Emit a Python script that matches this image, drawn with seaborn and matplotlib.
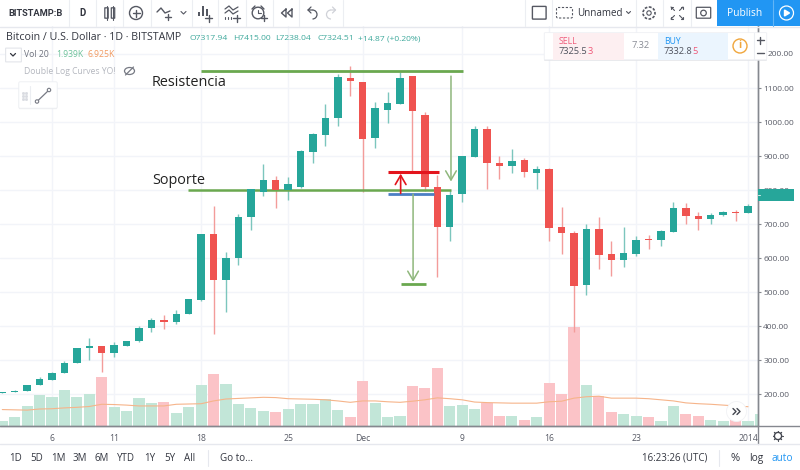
import matplotlib
matplotlib.use("Agg")
import matplotlib.pyplot as plt
from matplotlib.patches import Rectangle, FancyBboxPatch, Circle, Arc, Ellipse
import numpy as np
import pandas as pd
import seaborn as sns

# Daily BTC/USD session values; day 1 = 1 Nov, so 31 = 1 Dec and 62 = 1 Jan
first_day = 2
opens = [203, 206, 209, 227, 242, 263, 291, 334, 341, 322, 342, 355, 393, 417, 412, 435, 477, 670, 535, 600,
         720, 793, 829, 799, 810, 913, 962, 1012, 1130,
         1118, 954, 1035, 1054, 1135, 1021, 809, 692, 787, 898, 979, 880, 870, 889, 850, 863, 691, 675, 521,
         684, 611, 593, 613, 656, 654, 677, 748, 724, 715, 726, 735,
         732]
highs = [207, 211, 228, 251, 264, 298, 335, 364, 342, 352, 356, 400, 423, 432, 447, 480, 671, 754, 619, 730,
         803, 876, 842, 837, 917, 969, 1052, 1140, 1165,
         1119, 1058, 1087, 1148, 1136, 1030, 844, 800, 900, 989, 988, 900, 920, 895, 872, 864, 751, 680, 700,
         720, 651, 690, 664, 668, 681, 764, 762, 734, 732, 739, 741,
         758]
lows = [202, 205, 208, 226, 241, 262, 290, 300, 264, 309, 341, 354, 381, 390, 407, 434, 473, 376, 442, 579,
        682, 783, 746, 771, 806, 879, 929, 988, 1077,
        795, 923, 998, 1053, 854, 798, 543, 651, 766, 897, 802, 831, 849, 839, 802, 651, 612, 382, 491,
        569, 548, 574, 607, 627, 636, 676, 701, 682, 701, 725, 708,
        731]
closes = [206, 210, 227, 243, 263, 292, 334, 342, 322, 345, 355, 394, 417, 412, 436, 479, 670, 535, 599, 720,
          802, 829, 799, 818, 916, 964, 1012, 1131, 1120,
          949, 1040, 1055, 1130, 1033, 809, 692, 785, 899, 979, 879, 870, 885, 854, 863, 688, 674, 519, 684,
          608, 595, 616, 654, 653, 680, 748, 724, 715, 727, 735, 731,
          754]
# Volume in thousands, one extra session at the right edge
volumes = [1.8, 3.1, 7.2, 11.0, 10.4, 13.0, 10.4, 11.5, 17.5, 7.0, 5.3, 10.1, 8.2, 8.5, 4.8, 6.8, 14.8, 18.5, 15.0,
           8.0, 6.5, 5.3, 5.2, 6.0, 7.8, 7.8, 9.6, 5.8, 3.4,
           16.1, 8.4, 3.4, 3.7, 14.3, 13.7, 20.8, 7.2, 7.4, 6.0, 8.4, 3.7, 3.7, 2.0, 3.1, 15.4, 11.4, 35.6, 14.8,
           10.6, 5.0, 4.4, 3.5, 3.2, 1.8, 7.2, 4.2, 3.5, 2.0, 1.8, 2.0,
           1.939, 4.2]
volume_up = [1, 1, 1, 1, 1, 1, 1, 1, 0, 1, 1, 1, 1, 0, 1, 1, 1, 0, 1, 1, 1, 1, 0, 1, 1, 1, 1, 1, 0,
             0, 1, 1, 1, 0, 0, 0, 1, 1, 1, 0, 0, 1, 0, 1, 0, 0, 0, 1, 0, 0, 1, 1, 0, 1, 1, 0, 0, 1, 1, 0,
             1, 1]
volume_ma = [5.9, 5.8, 5.7, 6.1, 6.2, 6.5, 6.7, 7.0, 7.8, 7.7, 7.5, 7.2, 7.2, 7.2, 7.8, 7.9, 8.0, 9.0, 9.7,
             9.9, 10.1, 10.3, 10.2, 9.8, 9.7, 9.6, 9.4, 9.0, 8.5,
             9.0, 9.0, 8.7, 8.5, 8.9, 9.4, 10.1, 9.8, 9.4, 8.6, 8.4, 8.3, 8.2, 8.2, 8.2, 8.7, 8.9, 10.0, 10.5,
             10.7, 10.0, 10.0, 10.0, 9.8, 9.4, 9.0, 8.3, 8.0, 7.8, 7.5, 7.2,
             6.925]

price_ticks = [1200, 1100, 1000, 900, 800, 700, 600, 500, 400, 300, 200]
time_ticks = [6, 11, 18, 25, 31, 39, 46, 53, 62]
time_labels = ["6", "11", "18", "25", "Dec", "9", "16", "23", "2014"]

# Drawn trading levels (day span and price)
resistance_days, resistance_price = [18, 39.05], 1150
support_days, support_price = [16.95, 38.1], 801
entry_days, entry_price = [33.05, 37.1], 854
stop_days, stop_price = [33.05, 36.7], 789
target_days, target_price = [34.05, 36.05], 523
resistance_arrow = (38.1, 1135, 825)
entry_arrow = (34.05, 790, 848)
target_arrow = (35.05, 788, 530)

GREEN, RED = "#26a69a", "#ef5350"
WICK_UP, WICK_DOWN = "#7cc6bd", "#f39c9a"
LEVEL = "#6aa84f"
ARROW = "#8fb77c"
GRID = "#f2f4f9"
AXIS = "#85888f"
LABEL = "#585b66"
DARK = "#333640"

sns.set_theme(style="white")
plt.rcParams["font.family"] = ["Open Sans", "DejaVu Sans"]

W, H = 800, 470
fig = plt.figure(figsize=(W / 100, H / 100), dpi=100)
fig.patch.set_facecolor("white")
rect = [0, (H - 426) / H, 757.5 / W, 400 / H]
ax_vol = fig.add_axes(rect, zorder=1)
ax = fig.add_axes(rect, zorder=2)
ax.patch.set_visible(False)

days = np.arange(first_day, first_day + len(opens))
vol_frame = pd.DataFrame({"day": np.arange(first_day, first_day + len(volumes)),
                          "volume": volumes,
                          "side": ["up" if v else "down" for v in volume_up]})
sns.barplot(data=vol_frame, x="day", y="volume", hue="side", native_scale=True, dodge=False,
            palette={"up": "#c2e6d8", "down": "#fbc3c7"}, width=0.9, gap=0, legend=False,
            linewidth=0, saturation=1, ax=ax_vol)
sns.lineplot(x=days, y=volume_ma, color="#f6b48a", linewidth=0.8, ax=ax_vol)
ax_vol.set_xlim(1.817, 62.76)
ax_vol.set_ylim(0, 400 * 0.359)
ax_vol.set_xlabel("")
ax_vol.set_ylabel("")
ax_vol.set_yticks([])
ax_vol.set_xticks(time_ticks)
ax_vol.tick_params(axis="x", length=0, labelbottom=False)
ax_vol.grid(False)
for t in time_ticks:
    ax_vol.axvline(t, color=GRID, lw=1, zorder=0)
for p in price_ticks:
    ax_vol.axhline((p - 106) / (1282.4 - 106) * 400 * 0.359, color=GRID, lw=1, zorder=0)
for s in ax_vol.spines.values():
    s.set_visible(False)

opens_a, closes_a = np.array(opens, float), np.array(closes, float)
up = closes_a >= opens_a
ax.vlines(days, lows, highs, colors=[WICK_UP if u else WICK_DOWN for u in up], linewidth=1.0, zorder=2)
ax.bar(days, np.abs(closes_a - opens_a), bottom=np.minimum(opens_a, closes_a), width=0.6,
       color=[GREEN if u else RED for u in up], linewidth=0, zorder=3)
ax.set_xlim(1.817, 62.76)
ax.set_ylim(106, 1282.4)
ax.set_xticks(time_ticks, labels=time_labels)
ax.set_yticks(price_ticks[1:], labels=[f"{p:.2f}" for p in price_ticks[1:]])
ax.yaxis.tick_right()
ax.tick_params(axis="y", length=2.5, width=0.8, color=AXIS, pad=1.6, labelsize=6.0, labelcolor=LABEL)
ax.tick_params(axis="x", length=2.5, width=0.8, color=AXIS, pad=3.0, labelsize=6.2, labelcolor=LABEL)
for lab in ax.get_yticklabels():
    lab.set_ha("left")
ax.grid(False)
for name, s in ax.spines.items():
    s.set_visible(name in ("right", "bottom"))
    s.set_color(AXIS)
    s.set_linewidth(1.0)

# Support/resistance drawing
ax.plot(resistance_days, [resistance_price] * 2, color=LEVEL, lw=2.0, zorder=5, solid_capstyle="butt")
ax.plot(support_days, [support_price] * 2, color=LEVEL, lw=1.8, zorder=2.5, solid_capstyle="butt")
ax.plot(entry_days, [entry_price] * 2, color="#e3141c", lw=2.2, zorder=5, solid_capstyle="butt")
ax.plot(stop_days, [stop_price] * 2, color="#4c7fc4", lw=2.0, zorder=5, solid_capstyle="butt")
ax.plot(target_days, [target_price] * 2, color=LEVEL, lw=2.0, zorder=5, solid_capstyle="butt")
for (d, y0, y1), col, lw in ((resistance_arrow, ARROW, 1.1), (target_arrow, ARROW, 1.1), (entry_arrow, "#e3141c", 1.2)):
    ax.annotate("", xy=(d, y1), xytext=(d, y0),
                arrowprops=dict(arrowstyle="->,head_width=0.32,head_length=0.55", color=col, lw=lw,
                                shrinkA=0, shrinkB=0), zorder=5)

# Interface chrome, laid out in pixels on a transparent overlay
ui = fig.add_axes([0, 0, 1, 1], zorder=5)
ui.set_xlim(0, W)
ui.set_ylim(H, 0)
ui.axis("off")
ui.patch.set_visible(False)


def box(x0, y0, x1, y1, fc, ec="none", lw=0.0, z=1):
    ui.add_patch(Rectangle((x0, y0), x1 - x0, y1 - y0, fc=fc, ec=ec, lw=lw, zorder=z))


def line(xs, ys, c="#555862", lw=1.0, z=3, **kw):
    ui.plot(xs, ys, color=c, lw=lw, zorder=z, solid_capstyle="round", **kw)


def label(x, y, s, c=DARK, size=8, ha="left", weight="normal", z=4, **kw):
    ui.text(x, y, s, color=c, fontsize=size, ha=ha, va="center", fontweight=weight, zorder=z, **kw)


# Clip the last time label at the price scale, then draw the frame lines
box(757.9, 426.6, 800, 443.6, "white", z=0.5)
line([0, 800], [426, 426], AXIS, 1.0, z=0.6)
line([757.5, 757.5], [26, 444], AXIS, 1.0, z=0.6)
line([0, 800], [444, 444], "#e6e8ee", 1.0, z=0.6)
line([0, 800], [26.5, 26.5], "#e6e8ee", 1.0, z=0.6)

# Top toolbar
box(0, 0, 800, 26, "white", z=0.4)
for x in [69, 96, 123, 151, 192, 218, 246, 273, 299, 343, 525, 552, 636, 663, 691]:
    line([x, x], [0, 26], "#eceef2", 0.8, z=0.6)
label(8, 13, "BITSTAMP:B", DARK, 6.7, weight="bold", family="Roboto")
label(82.5, 13, "D", DARK, 6.9, ha="center", weight="bold", family="Roboto")
# candle icon
for cx, y0, y1 in ((106.5, 8, 18), (113, 8, 18)):
    ui.add_patch(FancyBboxPatch((cx - 1.5, y0), 3, y1 - y0, boxstyle="round,pad=0.2", fc="none", ec="#555862", lw=0.9, zorder=3))
    line([cx, cx], [y0 - 2, y1 + 2], "#555862", 0.8)
# add-compare icon
ui.add_patch(Circle((136, 13), 6.5, fc="none", ec="#555862", lw=1.0, zorder=3))
line([132.5, 139.5], [13, 13])
line([136, 136], [9.5, 16.5])
# indicator line icon
line([157, 161, 165, 170], [12, 8, 13, 11])
line([165, 171], [17, 17])
line([168, 168], [14, 20])
line([181, 183.5, 186], [11.5, 14, 11.5], lw=0.8)
# bars icon
for x0, y0 in ((198, 12), (202, 6), (206, 9)):
    box(x0, y0, x0 + 2.4, 16, "#555862", z=3)
line([205, 212], [18, 18])
line([208.5, 208.5], [14.5, 21.5])
# indicators icon
for dy in (0, 4):
    line([225, 229, 233, 238], [9 + dy, 6 + dy, 10 + dy, 7 + dy], lw=0.9)
for x0 in (225, 228, 231):
    line([x0, x0], [17, 19], lw=0.8)
line([233, 240], [18, 18])
line([236.5, 236.5], [14.5, 21.5])
# alarm icon
ui.add_patch(Circle((258, 13), 5.8, fc="none", ec="#555862", lw=1.0, zorder=3))
line([258, 258, 261], [9.5, 13, 13], lw=0.8)
line([252, 255], [9, 6], lw=1.0)
line([261, 264], [6, 9], lw=1.0)
line([261, 267], [18, 18])
line([264, 264], [15, 21])
# replay icon
line([286, 281.5, 286, 286], [9, 13, 17, 9])
line([292, 287.5, 292, 292], [9, 13, 17, 9])
# undo / redo
ui.add_patch(Arc((312.5, 14.5), 9, 9, theta1=270, theta2=90, ec="#555862", lw=0.9, zorder=3))
line([312.5, 308, 311], [10, 10, 7], lw=0.9)
line([308, 311], [10, 13], lw=0.9)
ui.add_patch(Arc((331, 14.5), 9, 9, theta1=90, theta2=270, ec="#d0d2d8", lw=0.9, zorder=3))
line([331, 335.5, 332.5], [10, 10, 7], "#d0d2d8", 0.9)
line([335.5, 332.5], [10, 13], "#d0d2d8", 0.9)
# right toolbar
ui.add_patch(FancyBboxPatch((533, 7), 12.5, 11.5, boxstyle="round,pad=0.6", fc="white", ec="#555862", lw=1.0, zorder=3))
ui.add_patch(FancyBboxPatch((558, 9), 13, 7.5, boxstyle="round,pad=1.5", fc="white", ec="#555862", lw=0.8, ls=(0, (2, 1.5)), zorder=3))
label(577, 13, "Unnamed", DARK, 7.1)
line([626.5, 628.5, 630.5], [11.5, 13.5, 11.5], lw=0.8)
ui.add_patch(Circle((649, 13), 6, fc="none", ec="#555862", lw=1.2, ls=(0, (1.6, 0.9)), zorder=3))
ui.add_patch(Circle((649, 13), 2.2, fc="none", ec="#555862", lw=0.8, zorder=3))
for sx, sy in ((-1, -1), (1, -1), (-1, 1), (1, 1)):
    cx, cy = 677 + sx * 2.5, 13 + sy * 2.5
    line([cx, cx + sx * 3.5], [cy, cy + sy * 3.5], lw=0.8)
    line([cx + sx * 1.2, cx + sx * 3.5, cx + sx * 3.5], [cy + sy * 3.5, cy + sy * 3.5, cy + sy * 1.2], lw=0.8)
ui.add_patch(FancyBboxPatch((697, 8), 13, 9.5, boxstyle="round,pad=0.7", fc="white", ec="#555862", lw=0.9, zorder=3))
ui.add_patch(Circle((703.5, 13), 2.8, fc="none", ec="#555862", lw=0.9, zorder=4))
box(717, 0, 800, 26, "#2196f3", z=1)
line([773, 773], [0, 26], "#62b5f6", 0.8, z=2)
label(745, 13, "Publish", "white", 7.4, ha="center")
ui.add_patch(Circle((786.5, 13), 7, fc="none", ec="white", lw=0.9, zorder=3))
ui.fill([784.5, 784.5, 789.5], [10, 16, 13], color="white", zorder=3)

# Header legend
label(6, 38, "Bitcoin / U.S. Dollar · 1D · BITSTAMP", DARK, 7.7)
for x, s in ((190, "O7317.94"), (233, "H7415.00"), (275, "L7238.04"), (317, "C7324.51"), (358, "+14.87 (+0.20%)")):
    label(x, 38.5, s, "#3fa99c", 6.1)
ui.add_patch(FancyBboxPatch((6, 48.5), 15, 13, boxstyle="round,pad=0.4", fc="white", ec="#e3e5ea", lw=0.8, zorder=3))
line([10.5, 13, 15.5], [53.5, 56, 53.5], DARK, 0.9)
label(24.5, 54.5, "Vol 20", "#6f727d", 6.2)
label(56, 54.5, "1.939K", "#6cc29a", 6.2)
label(87, 54.5, "6.925K", "#f29a60", 6.2)
label(24.5, 71, "Double Log Curves YO!", "#b4b7bf", 6.2)
ui.add_patch(Ellipse((129.5, 71), 10, 7, fc="none", ec="#777a84", lw=0.9, zorder=3))
line([125.5, 133.5], [75, 67], "#777a84", 0.9)

# Annotations on the chart
label(152, 82.5, "Resistencia", "#222222", 10.4)
label(152, 180.5, "Soporte", "#222222", 10.4)

# Floating drawing tool
ui.add_patch(FancyBboxPatch((20, 84), 36, 24, boxstyle="round,pad=1.2", fc="#e6e7ea", ec="none", zorder=2, alpha=0.6))
ui.add_patch(FancyBboxPatch((20, 83), 36, 24, boxstyle="round,pad=1.2", fc="white", ec="#eceef2", lw=0.6, zorder=2.1))
line([30, 30], [86, 104], "#eceef2", 0.8)
line([37, 49], [101.5, 90], "#777a84", 0.9)
for cx, cy in ((37, 101.5), (49, 90)):
    ui.add_patch(Circle((cx, cy), 1.7, fc="white", ec="#777a84", lw=0.8, zorder=4))
for yy in (93, 96, 99):
    ui.plot([23, 25.5], [yy, yy], ls="none", marker="s", ms=1.0, color="#d9dbe1", zorder=3)

# Buy/sell widget
ui.add_patch(FancyBboxPatch((545, 34), 221, 26, boxstyle="round,pad=1", fc="#e0e2e6", ec="none", alpha=0.7, zorder=2))
ui.add_patch(FancyBboxPatch((545, 33.5), 221, 25.5, boxstyle="round,pad=0.8", fc="white", ec="#eceef2", lw=0.5, zorder=2.1))
box(553, 33, 623.5, 59.5, "#fdeff1", z=2.2)
box(658, 33, 727.5, 59.5, "#ebf5fe", z=2.2)
label(559, 41, "SELL", "#ef5878", 6.2)
label(559, 51, "7325.5", "#50535e", 6.7)
label(587.6, 51, "3", "#ef5878", 6.7)
label(641, 46, "7.32", "#8a8d96", 6.7, ha="center")
label(664, 41, "BUY", "#2196f3", 6.2)
label(664, 51, "7332.8", "#50535e", 6.7)
label(692.6, 51, "5", "#ef5878", 6.7)
ui.add_patch(Circle((740, 46), 7, fc="none", ec="#f0a63c", lw=1.0, zorder=3))
label(740, 46, "i", "#f0a63c", 7.5, ha="center", weight="bold")
line([754, 754], [33, 60], "#eceef2", 0.8)
line([756.5, 763.5], [40, 40], "#555862", 1.0)
line([760, 760], [36.5, 43.5], "#555862", 1.0)
line([756.5, 763.5], [53, 53], "#555862", 1.0)
label(768, 54, "200.00", LABEL, 6.0)

# Last-price tag on the scale
box(757.9, 188.5, 794, 201, GREEN, z=2)
line([757.9, 760], [195, 195], "#d8efec", 0.7)

# Scroll button and scale gear
ui.add_patch(Circle((736.5, 411.5), 10, fc="white", ec="#f1f2f5", lw=0.6, zorder=3))
line([733, 736, 733], [408.5, 411.5, 414.5], "#444750", 1.0)
line([737, 740, 737], [408.5, 411.5, 414.5], "#444750", 1.0)
ui.add_patch(Circle((778, 436), 3.6, fc="none", ec="#444750", lw=1.0, zorder=3))
for a in np.deg2rad(np.arange(0, 360, 45)):
    line([778 + 3.8 * np.cos(a), 778 + 5.2 * np.cos(a)], [436 + 3.8 * np.sin(a), 436 + 5.2 * np.sin(a)], "#444750", 0.8)

# Bottom range bar
for x, s in ((16, "1D"), (37, "5D"), (58, "1M"), (80, "3M"), (102, "6M"), (126, "YTD"), (150, "1Y"), (170, "5Y"), (190, "All")):
    label(x, 458.5, s, DARK, 7.0, ha="center")
line([208, 208], [450, 466], "#e6e8ee", 0.8)
label(220, 458.5, "Go to...", DARK, 7.1)
label(642, 458.5, "16:23:26 (UTC)", DARK, 7.0)
line([719, 719], [450, 466], "#e6e8ee", 0.8)
label(735, 458.5, "%", DARK, 8, ha="center")
label(756, 458.5, "log", DARK, 7.3, ha="center")
label(782, 458.5, "auto", "#2196f3", 7.3, ha="center")

fig.savefig("out.png", dpi=100, facecolor="white")
